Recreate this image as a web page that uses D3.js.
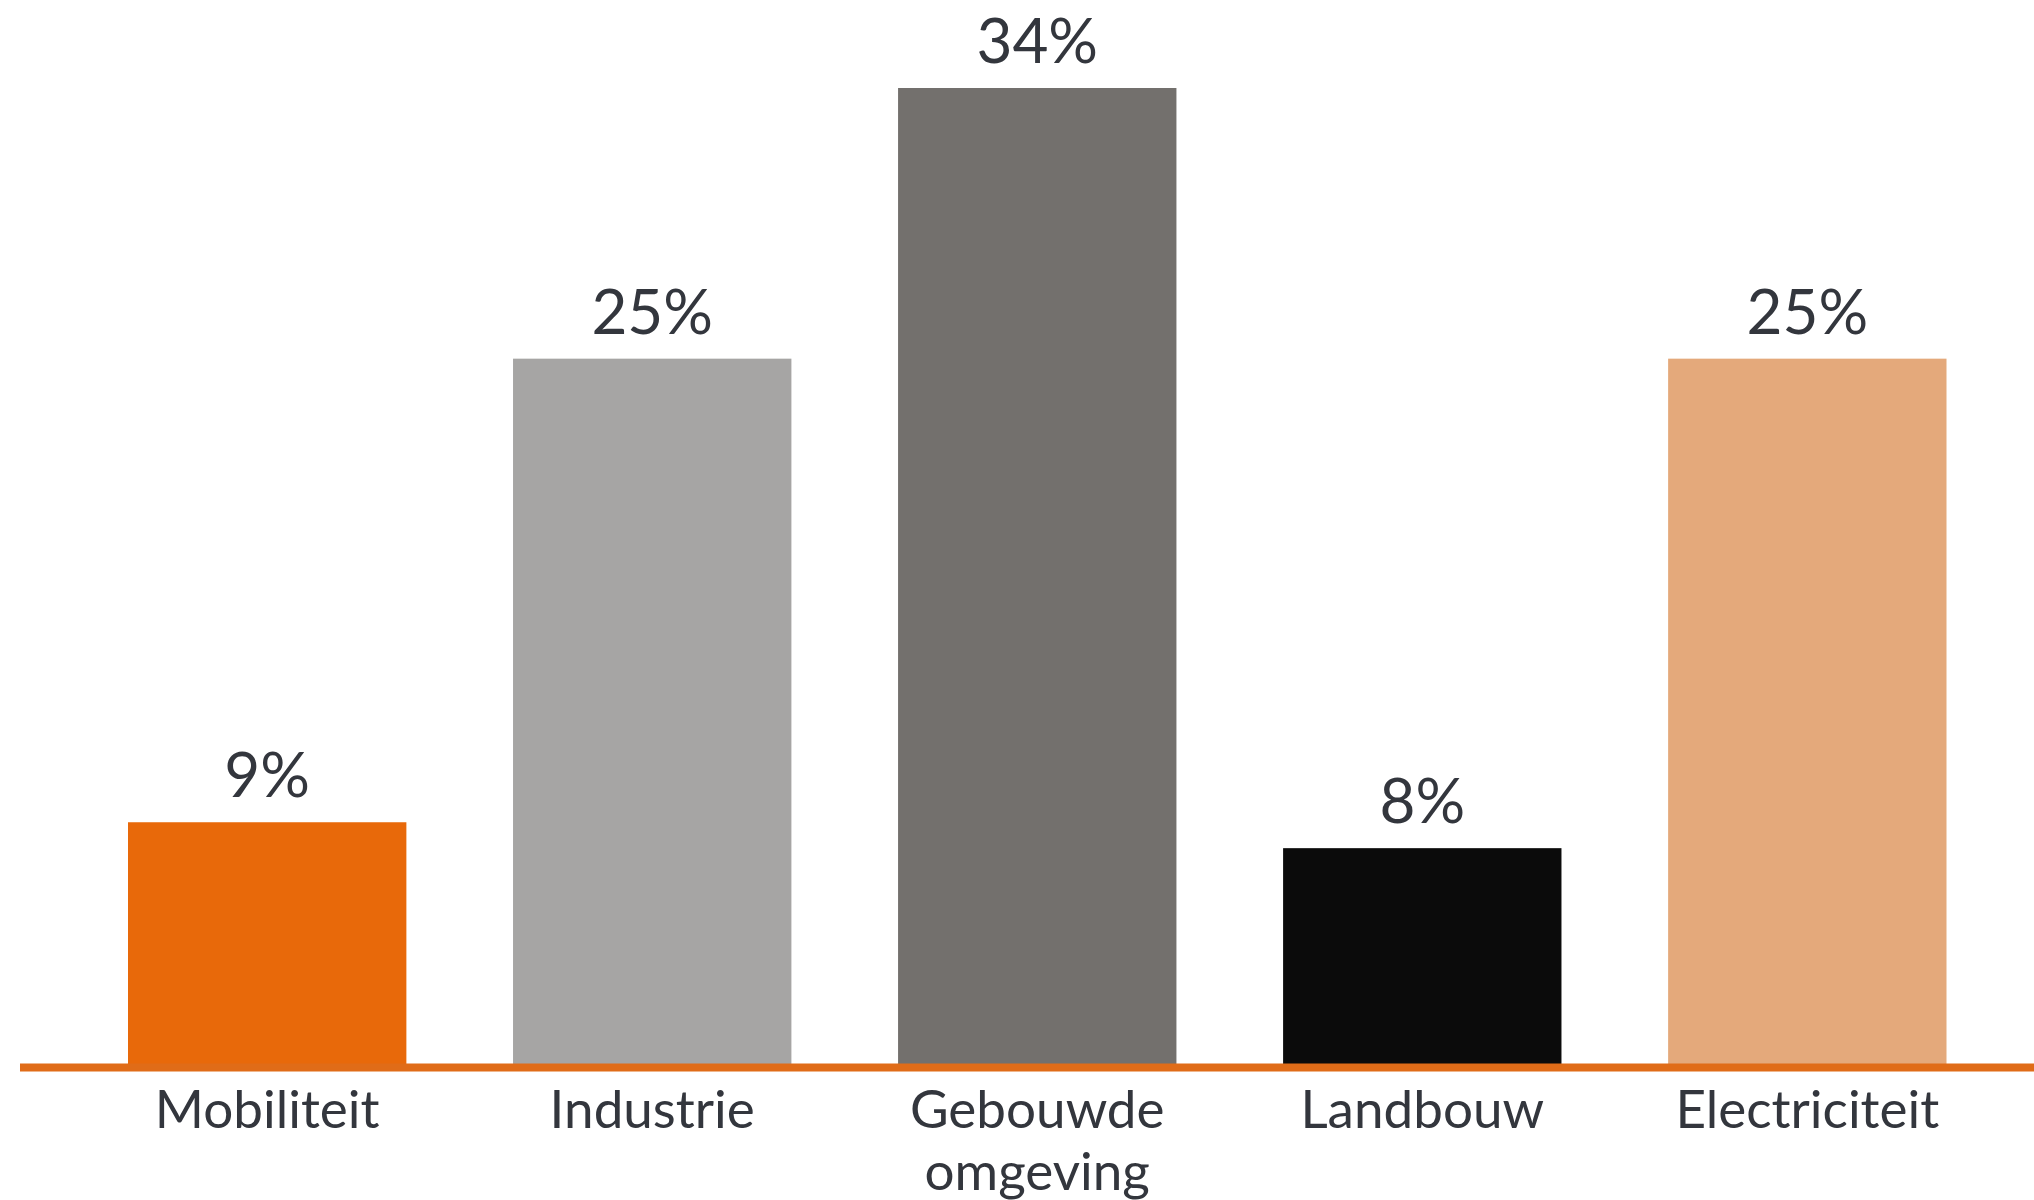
<!DOCTYPE html>
<html>
<head>
<meta charset="utf-8">
<script src="https://cdn.jsdelivr.net/npm/d3@7"></script>
<style>
  html, body { margin: 0; padding: 0; background: #ffffff; }
  svg { display: block; }
</style>
</head>
<body>
<svg id="chart" width="2034" height="1200"></svg>
<script>
const categories = ["Mobiliteit", "Industrie", "Gebouwde omgeving", "Landbouw", "Electriciteit"];
const labelLines = [["Mobiliteit"], ["Industrie"], ["Gebouwde", "omgeving"], ["Landbouw"], ["Electriciteit"]];
const values = [8.5, 24.6, 34, 7.6, 24.6];
const valueLabels = ["9%", "25%", "34%", "8%", "25%"];
const colors = ["#E8690A", "#A6A5A4", "#73706D", "#0B0B0B", "#E4A97B"];

const svg = d3.select("#chart");
const textColor = "#33363d";
const font = "Lato, 'Open Sans', sans-serif";

const x = d3.scaleBand().domain(categories).range([128, 1946.5]).paddingInner(0.277).paddingOuter(0);
const y = d3.scaleLinear().domain([0, 34]).range([1067, 88]);

svg.selectAll("rect.bar")
  .data(categories)
  .join("rect")
  .attr("class", "bar")
  .attr("x", d => x(d))
  .attr("width", x.bandwidth())
  .attr("y", (d, i) => y(values[i]))
  .attr("height", (d, i) => y(0) - y(values[i]))
  .attr("fill", (d, i) => colors[i]);

svg.selectAll("text.val")
  .data(categories)
  .join("text")
  .attr("class", "val")
  .attr("x", d => x(d) + x.bandwidth() / 2)
  .attr("y", (d, i) => y(values[i]) - 25)
  .attr("text-anchor", "middle")
  .attr("font-family", font)
  .attr("font-size", 62)
  .attr("fill", textColor)
  .text((d, i) => valueLabels[i]);

// baseline axis line
svg.append("line")
  .attr("x1", 20).attr("x2", 2034)
  .attr("y1", 1067.5).attr("y2", 1067.5)
  .attr("stroke", "#E06C18")
  .attr("stroke-width", 8);

const lab = svg.selectAll("text.cat")
  .data(categories)
  .join("text")
  .attr("class", "cat")
  .attr("x", d => x(d) + x.bandwidth() / 2)
  .attr("y", 1128)
  .attr("text-anchor", "middle")
  .attr("font-family", font)
  .attr("font-size", 53)
  .attr("fill", textColor);

lab.selectAll("tspan")
  .data((d, i) => labelLines[i].map(t => ({ t, cx: x(d) + x.bandwidth() / 2 })))
  .join("tspan")
  .attr("x", d => d.cx)
  .attr("dy", (d, j) => j === 0 ? 0 : 62)
  .text(d => d.t);
</script>
</body>
</html>
